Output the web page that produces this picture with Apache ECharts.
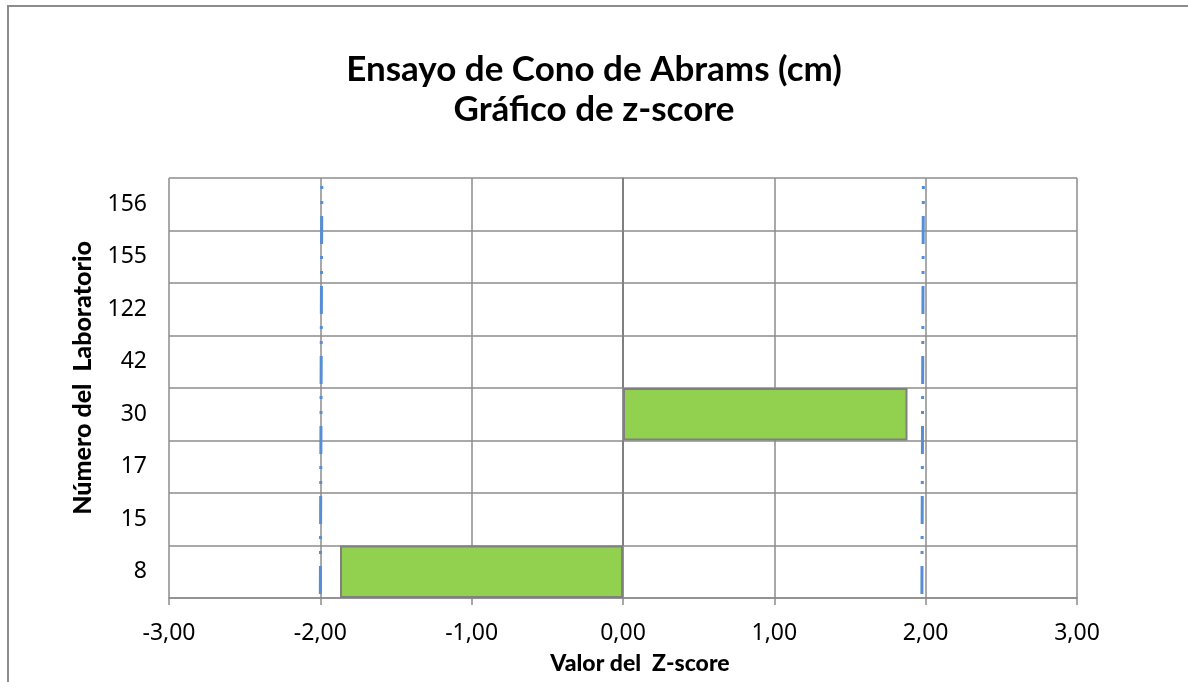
<!DOCTYPE html>
<html>
<head>
<meta charset="utf-8">
<script src="https://cdn.jsdelivr.net/npm/echarts@6/dist/echarts.min.js"></script>
<style>
  html, body { margin: 0; padding: 0; background: #fff; overflow: hidden; }
  #frame { position: absolute; left: 7px; top: 5px; width: 1300px; height: 800px;
           border-left: 2px solid #8c8c8c; border-top: 2px solid #8c8c8c; }
  #chart { position: absolute; left: 0; top: 0; width: 1188px; height: 682px; }
</style>
</head>
<body>
<div id="frame"></div>
<div id="chart"></div>
<script>
// laboratorios, de abajo hacia arriba
var labs = ['8', '15', '17', '30', '42', '122', '155', '156'];
var zScores = [-1.87, 0, 0, 1.88, 0, 0, 0, 0];
// límites |z| = 2 (líneas de trazo y punto)
var limInf = [[-1.99, 1], [-2.0, 0]];
var limSup = [[1.985, 1], [1.975, 0]];
var xTicks = { min: -3, max: 3, step: 1 };

var font = 'Lato, "Open Sans", sans-serif';
var tickFont = '"Noto Sans", sans-serif';
var gris = '#8c8c8c';
var dashDot = { color: '#558ed5', width: 3, type: [28, 12, 3, 12, 3, 12], dashOffset: 32 };

var myChart = echarts.init(document.getElementById('chart'));
myChart.setOption({
    animation: false,
    title: {
        text: 'Ensayo de Cono de Abrams (cm)\nGráfico de z-score',
        left: 'center',
        top: 45,
        textStyle: { fontFamily: font, fontSize: 35, fontWeight: 'bold', color: '#000', lineHeight: 40 }
    },
    graphic: [{
        type: 'text',
        x: 83,
        y: 378,
        rotation: Math.PI / 2,
        style: {
            text: 'Número del  Laboratorio',
            font: '900 25px ' + font,
            fill: '#000',
            align: 'center',
            verticalAlign: 'middle'
        }
    }],
    grid: { left: 169, right: 111, top: 178, bottom: 84 },
    xAxis: {
        type: 'value',
        min: xTicks.min,
        max: xTicks.max,
        interval: xTicks.step,
        name: 'Valor del  Z-score',
        nameLocation: 'middle',
        nameGap: 54,
        nameTextStyle: { fontFamily: font, fontSize: 23, fontWeight: 900, color: '#000', padding: [0, 0, 0, 34] },
        axisLine: { show: true, lineStyle: { color: gris, width: 1.5 } },
        axisTick: { show: true, length: 7, lineStyle: { color: gris, width: 1.5 } },
        axisLabel: {
            margin: 24,
            fontFamily: tickFont, fontSize: 23, color: '#000',
            formatter: function (v) { return v.toFixed(2).replace('.', ','); }
        },
        splitLine: { show: true, lineStyle: { color: gris, width: 1.5 } }
    },
    yAxis: [
        {
            type: 'category',
            data: labs,
            axisLine: { show: true, lineStyle: { color: gris, width: 1.5 } },
            axisTick: { show: false },
            axisLabel: { margin: 22, fontFamily: tickFont, fontSize: 23, color: '#000' },
            splitLine: { show: true, lineStyle: { color: gris, width: 1.5 } }
        },
        {
            type: 'value', min: 0, max: 1, show: false
        }
    ],
    series: [
        {
            type: 'bar',
            data: zScores,
            barWidth: '100%',
            itemStyle: { color: '#92d050', borderColor: '#808080', borderWidth: 2 }
        },
        {
            type: 'line', yAxisIndex: 1, data: limInf,
            symbol: 'none', lineStyle: dashDot
        },
        {
            type: 'line', yAxisIndex: 1, data: limSup,
            symbol: 'none', lineStyle: dashDot
        }
    ]
});
</script>
</body>
</html>
